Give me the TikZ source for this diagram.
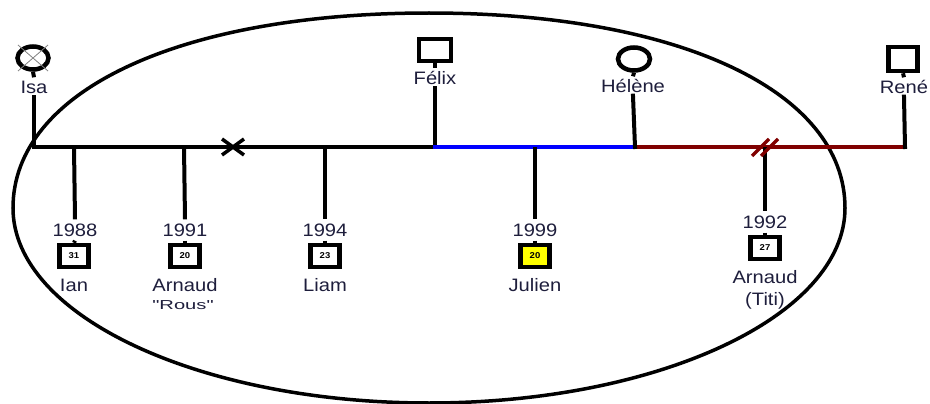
\documentclass[tikz,border=0pt]{standalone}
\usepackage{fontspec}
\setmainfont{Liberation Sans}[FakeStretch=1.12]
\newfontfamily\nickfont{Liberation Sans}[FakeStretch=1.55]
\usetikzlibrary{shapes.geometric}
\definecolor{txt}{RGB}{30,30,60}
\definecolor{bondblue}{RGB}{0,0,255}
\definecolor{bondred}{RGB}{128,0,0}
\definecolor{hilite}{RGB}{255,255,0}
\begin{document}
\begin{tikzpicture}[x=1pt,y=-1pt,
  malebox/.style={draw, line width=4.5pt, fill=white, minimum width=30pt, minimum height=23pt, inner sep=0pt},
  femalebox/.style={draw, ellipse, line width=4.5pt, fill=white, minimum width=31pt, minimum height=23pt, inner sep=0pt},
  kidbox/.style={malebox, minimum width=29pt, minimum height=22pt, font=\fontsize{8.5}{9}\selectfont\bfseries},
  lbl/.style={text=txt, font=\fontsize{18}{20}\selectfont, text height=13pt, text depth=0pt, inner xsep=1pt, inner ysep=3pt},
  yearlbl/.style={lbl, inner ysep=4pt},
  nicklbl/.style={text=txt, font=\fontsize{13}{15}\nickfont, inner sep=1pt},
  tie/.style={line width=4pt, line cap=rect},
  crossbar/.style={line width=3.5pt},
  xmark/.style={gray, line width=0.8pt}]
\useasboundingbox (0,0) rectangle (930,404);

% household outline: fuller upper half, elliptic lower half
\draw[line width=3.5pt]
  (13,208) .. controls (13,91) and (179.4,13) .. (429,13)
           .. controls (678.6,13) and (845,91) .. (845,208)
           .. controls (845,315.7) and (658.8,403) .. (429,403)
           .. controls (199.2,403) and (13,315.7) .. (13,208) -- cycle;

% parents
\node[femalebox] (isa) at (33,58) {};
\draw[xmark] ([shift={(-15,-13)}]isa.center) -- ([shift={(15,13)}]isa.center);
\draw[xmark] ([shift={(15,-13)}]isa.center) -- ([shift={(-15,13)}]isa.center);
\node[lbl] (isaL) at (34,87) {Isa};

\node[malebox, minimum width=32pt, minimum height=22pt] (felix) at (435,50) {};
\node[lbl] (felixL) at (435,78) {Félix};

\node[femalebox, minimum width=32pt] (helene) at (634,59) {};
\node[lbl] (heleneL) at (633,86) {Hélène};

\node[malebox, minimum width=29pt, minimum height=24pt] (rene) at (903,59) {};
\node[lbl] (reneL) at (904,87) {René};

% junctions on the union line
\coordinate (jIsa) at (34,147);
\coordinate (jIan) at (74,147);
\coordinate (jArnaud) at (184,147);
\coordinate (jSplit) at (233,147);
\coordinate (jLiam) at (325,147);
\coordinate (jFelix) at (435,147);
\coordinate (jJulien) at (535,147);
\coordinate (jHelene) at (635,147);
\coordinate (jTiti) at (765,147);
\coordinate (jRene) at (905,147);

% children
\node[yearlbl] (yIan) at (75,230) {1988};
\node[kidbox] (ian) at (74,256) {31};
\node[lbl] (ianL) at (74,285) {Ian};

\node[yearlbl] (yArnaud) at (185,230) {1991};
\node[kidbox] (arnaud) at (185,256) {20};
\node[lbl] (arnaudL) at (185,285) {Arnaud};
\node[nicklbl] (arnaudN) at (183,305) {"Rous"};

\node[yearlbl] (yLiam) at (325,230) {1994};
\node[kidbox] (liam) at (325,256) {23};
\node[lbl] (liamL) at (325,285) {Liam};

\node[yearlbl] (yJulien) at (535,230) {1999};
\node[kidbox, fill=hilite] (julien) at (535,256) {20};
\node[lbl] (julienL) at (535,285) {Julien};

\node[yearlbl] (yTiti) at (765,222) {1992};
\node[kidbox] (titi) at (765,248) {27};
\node[lbl] (titiL) at (765,277) {Arnaud};
\node[lbl] (titiN) at (765,299) {(Titi)};

% parent stubs and drops
\foreach \p in {isa,felix,helene,rene}
  \draw[tie, line cap=butt] (\p.south) -- (\p L.north);
\draw[tie] (isaL.south) -- (jIsa) -- (jFelix);
\draw[tie] (felixL.south) -- (jFelix);
\draw[tie, bondblue] (jFelix) -- (jHelene);
\draw[tie, bondred, line cap=butt] (jHelene) -- (jRene);
\draw[tie] (heleneL.south) -- (jHelene);
\draw[tie] (reneL.south) -- (jRene);

% child drops
\foreach \j/\c in {jIan/Ian,jArnaud/Arnaud,jLiam/Liam,jJulien/Julien,jTiti/Titi}
  \draw[tie, line cap=butt] (\j) -- (y\c.north);
\foreach \c/\s in {Ian/ian,Arnaud/arnaud,Liam/liam,Julien/julien,Titi/titi}
  \draw[tie, line cap=butt] (y\c.south) -- (\s.north);

% separation cross
\draw[crossbar] ([shift={(-11,-8)}]jSplit) -- ([shift={(11,8)}]jSplit);
\draw[crossbar] ([shift={(-11,8)}]jSplit) -- ([shift={(11,-8)}]jSplit);

% divorce slashes
\draw[crossbar, bondred] ([shift={(-13,9)}]jTiti) -- ([shift={(4,-8)}]jTiti);
\draw[crossbar, bondred] ([shift={(-4,9)}]jTiti) -- ([shift={(13,-8)}]jTiti);
\end{tikzpicture}
\end{document}
